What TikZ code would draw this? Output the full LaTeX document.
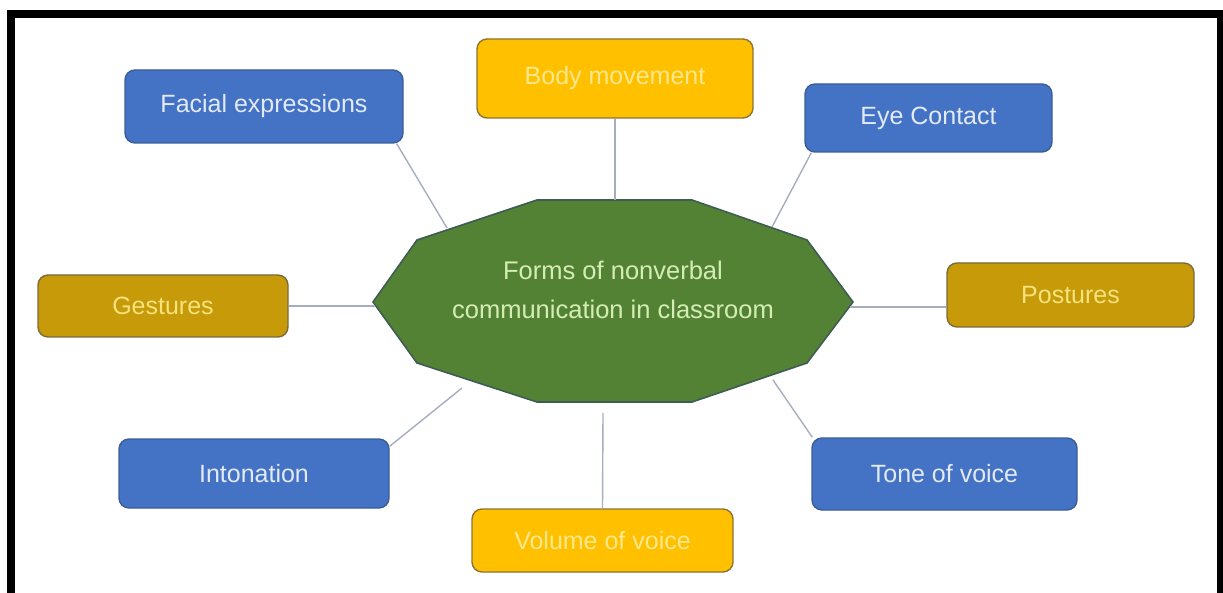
\documentclass[tikz,border=0pt]{standalone}
\usepackage{fontspec}
\setmainfont{Liberation Sans}
\usetikzlibrary{calc}

\definecolor{boxblue}{HTML}{4472C4}
\definecolor{boxblueline}{HTML}{3A5D96}
\definecolor{txtblue}{HTML}{E2EAF6}
\definecolor{boxyellow}{HTML}{FFC000}
\definecolor{boxyellowline}{HTML}{8C7434}
\definecolor{txtyellow}{HTML}{FFE88C}
\definecolor{boxgold}{HTML}{C69A08}
\definecolor{boxgoldline}{HTML}{7A6A3C}
\definecolor{txtgold}{HTML}{F7E27C}
\definecolor{hubgreen}{HTML}{548235}
\definecolor{hubline}{HTML}{3F5C52}
\definecolor{txtgreen}{HTML}{D4EDB4}
\definecolor{linkgrey}{HTML}{A6AEBE}

\tikzset{
  topic/.style={rounded corners=10pt, line width=1.4pt, inner sep=0pt,
    font=\fontsize{25}{29}\selectfont},
  bluebox/.style={topic, fill=boxblue, draw=boxblueline, text=txtblue},
  yellowbox/.style={topic, fill=boxyellow, draw=boxyellowline, text=txtyellow},
  goldbox/.style={topic, fill=boxgold, draw=boxgoldline, text=txtgold},
  link/.style={draw=linkgrey, line width=1.4pt},
  frame/.style={fill=black}
}

\begin{document}
\begin{tikzpicture}[x=1pt, y=-1pt]
  \useasboundingbox (0,0) rectangle (1223,593);

  % outer frame (open at the bottom)
  \fill[frame] (7,10) rectangle (1223,18);
  \fill[frame] (7,10) rectangle (15,593);
  \fill[frame] (1217,10) rectangle (1223,593);

  % central hub: an irregular decagon
  \coordinate (d1) at (537,200);
  \coordinate (d2) at (692,200);
  \coordinate (d3) at (807,240);
  \coordinate (d4) at (853,302);
  \coordinate (d5) at (807,363);
  \coordinate (d6) at (692,402);
  \coordinate (d7) at (537,402);
  \coordinate (d8) at (417,363);
  \coordinate (d9) at (373,302);
  \coordinate (d10) at (417,240);
  \filldraw[fill=hubgreen, draw=hubline, line width=1.6pt, line join=miter]
    (d1) -- (d2) -- (d3) -- (d4) -- (d5) -- (d6) -- (d7) -- (d8) -- (d9) -- (d10) -- cycle;
  \node[text=txtgreen, align=center, font=\fontsize{25.5}{39}\selectfont]
    (hub) at (613,290) {Forms of nonverbal\\communication in classroom};

  % topic boxes
  \node[bluebox, minimum width=278pt, minimum height=73pt] (fac) at (264,106.5) {Facial expressions};
  \node[yellowbox, minimum width=276pt, minimum height=79pt] (body) at (615,78.5) {Body movement};
  \node[bluebox, minimum width=247pt, minimum height=68pt] (eye) at (928.5,118) {Eye Contact};
  \node[goldbox, minimum width=250pt, minimum height=62pt] (gest) at (163,306) {Gestures};
  \node[goldbox, minimum width=247pt, minimum height=64pt] (post) at (1070.5,295) {Postures};
  \node[bluebox, minimum width=270pt, minimum height=69pt] (inton) at (254,473.5) {Intonation};
  \node[yellowbox, minimum width=261pt, minimum height=63pt] (vol) at (602.5,540.5) {Volume of voice};
  \node[bluebox, minimum width=265pt, minimum height=72pt] (tone) at (944.5,474) {Tone of voice};

  % points where the links meet the hub
  \coordinate (hf) at (447,228);
  \coordinate (hb) at (615,200);
  \coordinate (he) at (772,227);
  \coordinate (hg) at (375,306);
  \coordinate (hp) at (850,307);
  \coordinate (hi) at (462,388);
  \coordinate (hv) at (603,413);
  \coordinate (ht) at (773,380);

  % links
  \draw[link] ($(fac.south east)+(-7,0)$) -- (hf);
  \draw[link] (body.south) -- (hb);
  \draw[link] ($(eye.south west)+(7,0)$) -- (he);
  \draw[link] (gest.east) -- (hg);
  \draw[link] ($(post.west)+(0,12)$) -- (hp);
  \draw[link] ($(inton.north east)+(0,8)$) -- (hi);
  \draw[link] (vol.north) -- (hv);
  \draw[link] ($(tone.north west)+(1,0)$) -- (ht);
\end{tikzpicture}
\end{document}
